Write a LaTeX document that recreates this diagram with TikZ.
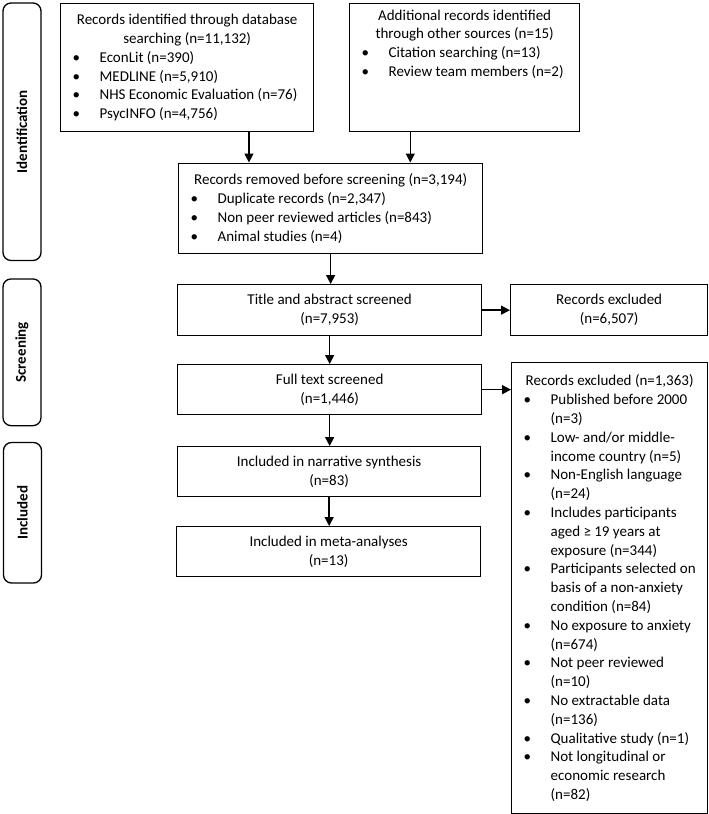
\documentclass[tikz,border=0pt]{standalone}
\usepackage{fontspec}
\setmainfont{Carlito}
\usetikzlibrary{arrows.meta,calc}
\newcommand\bl[1]{\hspace*{6pt}\makebox[27pt][l]{\textbullet}#1}
\newcommand\cl[1]{\hspace*{33pt}#1}
\begin{document}
\begin{tikzpicture}[x=1pt,y=-1pt,
  box/.style={draw, line width=1.3pt, inner sep=0pt, anchor=north west,
    font=\fontsize{15}{18.8}\selectfont},
  side/.style={draw, line width=1.3pt, rounded corners=8pt, inner sep=0pt,
    rotate=90, minimum height=38pt, font=\fontsize{15}{18}\selectfont\bfseries},
  arr/.style={line width=1.4pt, -{Triangle[length=9pt,width=9pt]}}]
\useasboundingbox (0,0) rectangle (709,814);
\fill[white] (0,0) rectangle (709,814);

% side labels
\node[side, minimum width=257.5pt] (S1) at (22,131.75) {Identification};
\node[side, minimum width=146.7pt] (S2) at (22,352.3) {Screening};
\node[side, minimum width=140.5pt] (S3) at (22.5,512.75) {Included};

% boxes
\node[box, minimum width=253pt, minimum height=128pt] (A) at (60,3)
 {\begin{minipage}{241pt}\centering Records identified through database\\searching (n=11,132)\par\raggedright
 \bl{EconLit (n=390)}\\
 \bl{MEDLINE (n=5,910)}\\
 \bl{NHS Economic Evaluation (n=76)}\\
 \bl{PsycINFO (n=4,756)}\end{minipage}};

\node[box, minimum width=230pt, minimum height=128pt] (B) at (349,3)
 {\begin{minipage}[c][116pt][t]{218pt}\centering Additional records identified\\through other sources (n=15)\par\raggedright
 \bl{Citation searching (n=13)}\\
 \bl{Review team members (n=2)}\end{minipage}};

\node[box, minimum width=304pt, minimum height=90.5pt] (C) at (178,162.5)
 {\begin{minipage}{292pt}\centering Records removed before screening (n=3,194)\par\raggedright
 \bl{Duplicate records (n=2,347)}\\
 \bl{Non peer reviewed articles (n=843)}\\
 \bl{Animal studies (n=4)}\end{minipage}};

\node[box, minimum width=304pt, minimum height=51pt] (D) at (177,284)
 {\begin{minipage}{292pt}\centering Title and abstract screened\\(n=7,953)\end{minipage}};

\node[box, minimum width=197pt, minimum height=51pt] (E) at (510,284)
 {\begin{minipage}{185pt}\centering Records excluded\\(n=6,507)\end{minipage}};

\node[box, minimum width=304pt, minimum height=50pt] (F) at (177,364)
 {\begin{minipage}{292pt}\centering Full text screened\\(n=1,446)\end{minipage}};

\node[box, minimum width=196pt, minimum height=451pt] (G) at (511,362)
 {\begin{minipage}{184pt}\centering Records excluded (n=1,363)\par\raggedright
 \bl{Published before 2000}\\
 \cl{(n=3)}\\
 \bl{Low- and/or middle-}\\
 \cl{income country (n=5)}\\
 \bl{Non-English language}\\
 \cl{(n=24)}\\
 \bl{Includes participants}\\
 \cl{aged ≥ 19 years at}\\
 \cl{exposure (n=344)}\\
 \bl{Participants selected on}\\
 \cl{basis of a non-anxiety}\\
 \cl{condition (n=84)}\\
 \bl{No exposure to anxiety}\\
 \cl{(n=674)}\\
 \bl{Not peer reviewed}\\
 \cl{(n=10)}\\
 \bl{No extractable data}\\
 \cl{(n=136)}\\
 \bl{Qualitative study (n=1)}\\
 \bl{Not longitudinal or}\\
 \cl{economic research}\\
 \cl{(n=82)}\end{minipage}};

\node[box, minimum width=303pt, minimum height=50pt] (H) at (177,446)
 {\begin{minipage}{291pt}\centering Included in narrative synthesis\\(n=83)\end{minipage}};

\node[box, minimum width=304pt, minimum height=50pt] (I) at (176,526)
 {\begin{minipage}{292pt}\centering Included in meta-analyses\\(n=13)\end{minipage}};

% connectors
\coordinate (a1) at ($(A.south west)!0.743!(A.south east)$);
\coordinate (b1) at ($(B.south west)!0.265!(B.south east)$);
\draw[arr] (a1) -- (a1 |- C.north);
\draw[arr] (b1) -- (b1 |- C.north);
\draw[arr] (C.south) -- (C.south |- D.north);
\draw[arr] (D.east) -- (D.east -| E.west);
\draw[arr] (D.south) -- (D.south |- F.north);
\draw[arr] (F.east) -- (F.east -| G.west);
\draw[arr] (F.south) -- (F.south |- H.north);
\draw[arr] (H.south) -- (H.south |- I.north);
\end{tikzpicture}
\end{document}
